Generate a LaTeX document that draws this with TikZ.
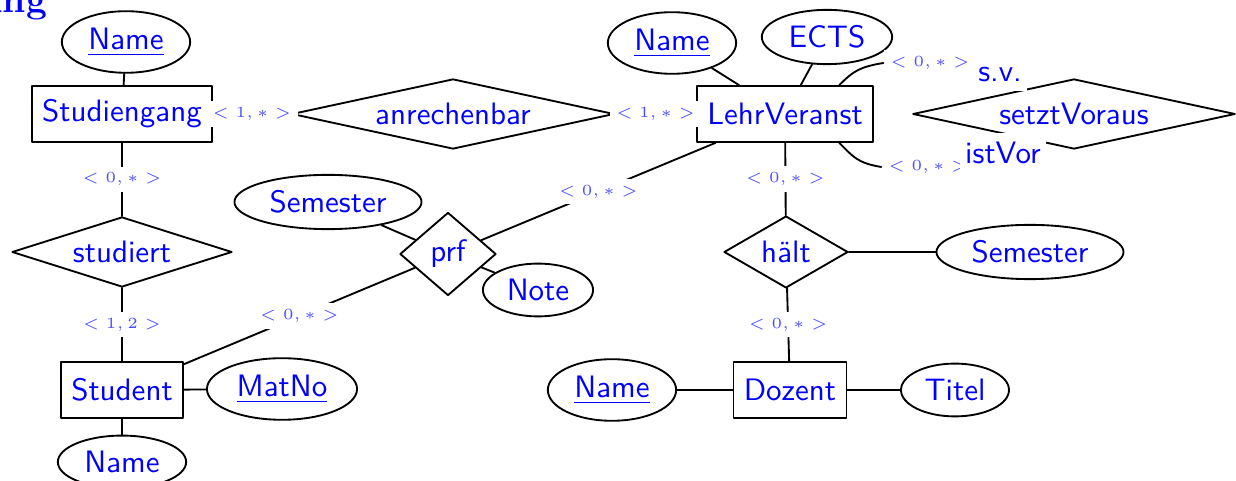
\documentclass[tikz,border=0pt]{standalone}
\usepackage{tikz}
\usetikzlibrary{shapes.geometric}
\tikzset{>=stealth,
every picture/.append style={
    line join=round,
    line cap=round,
    semithick
  }}
\newcommand{\crd}[2]{$<#1,#2>$}

\begin{document}
\begin{tikzpicture}[x=.3226pt,y=-.3226pt,
    ent/.style={draw, rectangle, minimum height=18pt, font=\sffamily, text=blue},
    attr/.style={draw, ellipse, inner sep=2.5pt, font=\sffamily, text=blue},
    rel/.style={draw, diamond, inner sep=0pt, font=\sffamily, text=blue},
    card/.style={fill=white, inner sep=2pt, font=\tiny, text=blue!70},
    role/.style={fill=white, inner xsep=1.8pt, inner ysep=2.8pt, font=\sffamily, text=blue}]
        \useasboundingbox (0,0) rectangle (1236,481);
        \node [anchor=base east, inner sep=0pt, font=\large\bfseries, text=blue] (title) at (48,13) {ung};

        % entities
        \node [ent] (sg) at (122,114) {Studiengang};
        \node [ent] (lv) at (785,114) {LehrVeranst};
        \node [ent] (student) at (122,390) {Student};
        \node [ent] (doz) at (790,390) {Dozent};

        % relationships
        \node [rel, aspect=4.6, minimum width=104pt, minimum height=22.6pt] (anr) at (453,114) {anrechenbar};
        \node [rel, aspect=4.6, minimum width=104pt, minimum height=22.6pt] (setzt) at (1074,114) {setztVoraus};
        \node [rel, aspect=3.1, minimum width=71pt, minimum height=22.6pt] (stud) at (122,252) {studiert};
        \node [rel, aspect=1.16, minimum width=31pt, minimum height=26.8pt] (prf) at (448,254) {prf};
        \node [rel, aspect=1.7, minimum width=40pt, minimum height=23.2pt] (haelt) at (786,252) {h\"alt};

        % attributes
        \node [attr] (namesg) at (126,42) {\underline{Name}};
        \node [attr] (namelv) at (672,43) {\underline{Name}};
        \node [attr] (ects) at (827,37) {ECTS};
        \node [attr] (semp) at (328,202) {Semester};
        \node [attr] (note) at (538,290) {Note};
        \node [attr] (semh) at (1030,252) {Semester};
        \node [attr] (matno) at (282,389) {\underline{MatNo}};
        \node [attr] (namest) at (122,462) {Name};
        \node [attr] (namedz) at (612,390) {\underline{Name}};
        \node [attr] (titel) at (955,390) {Titel};

        \draw (namesg) -- (sg);
        \draw (sg) -- node [card, midway] {\crd{1}{*}} (anr);
        \draw (anr) -- node [card, midway] {\crd{1}{*}} (lv);
        \draw (namelv) -- (lv);
        \draw (ects) -- (lv);
        \draw (sg) -- node [card, midway] {\crd{0}{*}} (stud);
        \draw (stud) -- node [card, midway] {\crd{1}{2}} (student);
        \draw (student) -- (matno);
        \draw (student) -- (namest);
        \draw (student) -- node [card, midway] {\crd{0}{*}} (prf);
        \draw (semp) -- (prf);
        \draw (prf) -- (note);
        \draw (prf) -- node [card, midway] {\crd{0}{*}} (lv);
        \draw (lv) -- node [card, midway] {\crd{0}{*}} (haelt);
        \draw (haelt) -- (semh);
        \draw (haelt) -- node [card, midway] {\crd{0}{*}} (doz);
        \draw (namedz) -- (doz);
        \draw (doz) -- (titel);

        % recursive relationship
        \node [card] (csv) at (930,63) {\crd{0}{*}};
        \node [card] (civ) at (928,167) {\crd{0}{*}};
        \draw (lv.28) .. controls +(14,-14) and +(-24,4) .. (csv.west);
        \draw (lv.-28) .. controls +(14,14) and +(-24,-4) .. (civ.west);
        \node [role] (sv) at (1000,75) {s.v.};
        \node [role] (iv) at (1003,153) {istVor};
    \end{tikzpicture}
\end{document}
